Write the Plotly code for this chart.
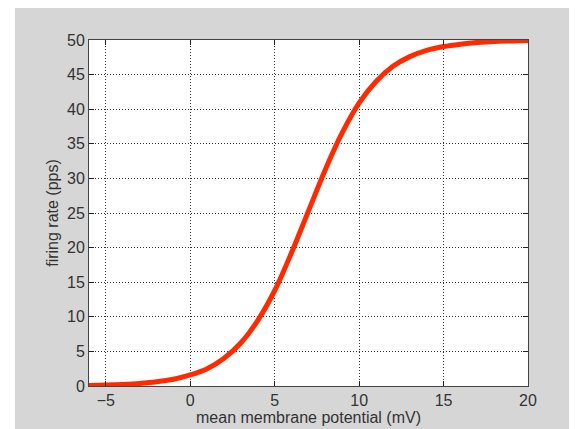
import plotly.graph_objects as go

# membrane potential (mV) and firing rate (pps)
potential = [-6, -5, -4, -3, -2, -1, 0, 1, 2, 3, 4, 5, 6, 7, 8, 9, 10,
             11, 12, 13, 14, 15, 16, 17, 18, 19, 20]
rate = [0.09, 0.14, 0.23, 0.37, 0.6, 0.98, 1.6, 2.5, 4.0, 6.25, 9.5, 13.8,
        19.3, 25.3, 31.3, 36.6, 40.9, 44.0, 46.2, 47.6, 48.5, 49.05, 49.4,
        49.65, 49.8, 49.87, 49.92]
x_ticks = [-5, 0, 5, 10, 15, 20]
y_ticks = [0, 5, 10, 15, 20, 25, 30, 35, 40, 45, 50]

FONT = "Liberation Sans, Arial"

fig = go.Figure()
fig.add_trace(go.Scatter(
    x=potential, y=rate, mode="lines", line=dict(color="#ff2a00", width=5, shape="spline"),
    cliponaxis=False, showlegend=False))

axis_common = dict(
    showline=True, linecolor="#444444", linewidth=1, mirror="ticks",
    ticks="inside", ticklen=5, tickcolor="#222222",
    showgrid=True, gridcolor="#333333", griddash="1px,2px", gridwidth=1,
    zeroline=False, automargin=False,
    tickfont=dict(family=FONT, size=16, color="#333333"),
)

fig.update_xaxes(range=[-6, 20], tickvals=x_ticks,
                 title=dict(text="mean membrane potential (mV)", standoff=2,
                            font=dict(family=FONT, size=16, color="#333333")),
                 **axis_common)
fig.update_yaxes(range=[0, 50], tickvals=y_ticks,
                 title=dict(text="firing rate (pps)", standoff=4,
                            font=dict(family=FONT, size=16, color="#333333")),
                 **axis_common)

shapes = [
    dict(type="rect", xref="paper", yref="paper", x0=-0.4, x1=-0.1686, y0=-0.5, y1=1.5,
         fillcolor="white", line=dict(width=0), layer="below"),
]

fig.update_layout(
    width=569, height=421,
    margin=dict(l=81, r=49, t=32, b=43),
    paper_bgcolor="#d6d6d6", plot_bgcolor="white",
    shapes=shapes,
)

fig.write_html("out.html")
